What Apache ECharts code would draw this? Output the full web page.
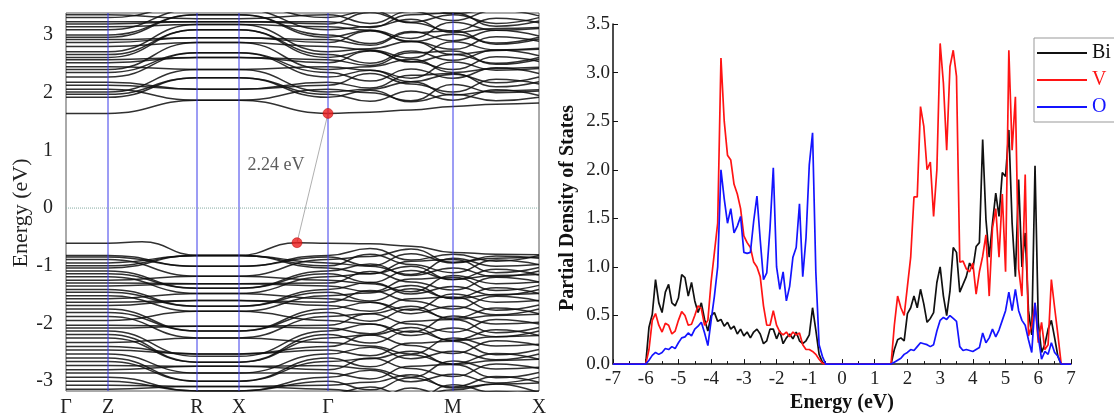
<!DOCTYPE html>
<html>
<head>
<meta charset="utf-8">
<script src="https://cdn.jsdelivr.net/npm/echarts@6/dist/echarts.min.js"></script>
<style>
  html, body { margin: 0; padding: 0; background: #ffffff; }
  #chart { width: 1114px; height: 418px; }
</style>
</head>
<body>
<div id="chart"></div>
<script>
// ---------- Band structure along Γ–Z–R–X–Γ–M–X ----------
const kLabels = ['Γ', 'Z', 'R', 'X', 'Γ', 'M', 'X'];
const kTicks = [0, 0.42, 1.31, 1.73, 2.62, 3.87, 4.73];
// sampling of every band: Γ, Z, R, X, Γ, Γ–M 1/3, Γ–M 2/3, M, M–X mid, X
const kPath = [0, 0.42, 1.31, 1.73, 2.62, 3.04, 3.45, 3.87, 4.30, 4.73];
const energyTicks = [-3, -2, -1, 0, 1, 2, 3];
const energyRange = [-3.17, 3.38];

// band edges (eV)
const bandGap = 2.24;
const vbmK = 2.31;
const vbmE = -0.60;
const cbmK = 2.62;
const cbmE = vbmE + bandGap;

// highest valence band, with its maxima inside Z–R and X–Γ
const topValenceK = [0, 0.42, 0.76, 1.31, 1.73, 2.31, 2.62, 3.04, 3.45, 3.87, 4.30, 4.73];
const topValenceE = [-0.61, -0.61, -0.585, -0.82, -0.82, -0.60, -0.61, -0.62, -0.66, -0.77, -0.80, -0.81];

// each row: [E(Γ)=E(Z), E(R)=E(X), Γ–M 1/3, Γ–M 2/3, M, M–X mid, X]
const valenceBands = [
  [-0.82, -1.01, -0.70, -0.90, -0.80, -0.92, -0.82],
  [-0.85, -1.01, -1.00, -0.79, -0.95, -0.83, -0.87],
  [-0.89, -1.18, -0.84, -0.71, -0.94, -0.87, -0.85],
  [-0.95, -0.82, -1.01, -1.15, -0.87, -1.01, -0.98],
  [-1.00, -0.82, -0.80, -0.98, -1.12, -0.90, -0.98],
  [-1.04, -0.82, -1.14, -0.92, -0.89, -1.12, -1.03],
  [-1.09, -1.39, -0.97, -1.17, -1.04, -1.19, -1.09],
  [-1.14, -1.39, -1.29, -1.08, -1.24, -1.06, -1.16],
  [-1.19, -1.48, -1.14, -1.01, -1.24, -1.17, -1.15],
  [-1.25, -1.18, -1.31, -1.45, -1.17, -1.31, -1.28],
  [-1.30, -1.31, -1.10, -1.28, -1.42, -1.20, -1.28],
  [-1.35, -1.31, -1.45, -1.23, -1.20, -1.43, -1.34],
  [-1.41, -1.70, -1.29, -1.49, -1.36, -1.51, -1.41],
  [-1.46, -1.70, -1.61, -1.40, -1.56, -1.38, -1.48],
  [-1.52, -1.79, -1.47, -1.34, -1.57, -1.50, -1.48],
  [-1.57, -1.48, -1.63, -1.77, -1.49, -1.63, -1.60],
  [-1.63, -1.60, -1.43, -1.61, -1.75, -1.53, -1.61],
  [-1.69, -1.60, -1.79, -1.57, -1.54, -1.77, -1.68],
  [-1.75, -2.13, -1.63, -1.83, -1.70, -1.85, -1.75],
  [-1.81, -2.13, -1.96, -1.75, -1.91, -1.73, -1.83],
  [-1.88, -2.25, -1.83, -1.70, -1.93, -1.86, -1.84],
  [-1.95, -1.79, -2.01, -2.15, -1.87, -2.01, -1.98],
  [-2.03, -2.05, -1.83, -2.01, -2.15, -1.93, -2.01],
  [-2.08, -2.05, -2.18, -1.96, -1.93, -2.16, -2.07],
  [-2.13, -2.57, -2.01, -2.21, -2.08, -2.23, -2.13],
  [-2.19, -2.67, -2.34, -2.13, -2.29, -2.11, -2.21],
  [-2.25, -2.67, -2.20, -2.07, -2.30, -2.23, -2.21],
  [-2.33, -2.25, -2.39, -2.53, -2.25, -2.39, -2.36],
  [-2.40, -2.53, -2.20, -2.38, -2.52, -2.30, -2.38],
  [-2.46, -2.53, -2.56, -2.34, -2.31, -2.54, -2.45],
  [-2.53, -2.86, -2.41, -2.61, -2.48, -2.63, -2.53],
  [-2.60, -3.00, -2.75, -2.54, -2.70, -2.52, -2.62],
  [-2.66, -3.00, -2.61, -2.48, -2.71, -2.64, -2.62],
  [-2.73, -2.74, -2.79, -2.93, -2.65, -2.79, -2.76],
  [-2.80, -2.74, -2.60, -2.78, -2.92, -2.70, -2.78],
  [-2.86, -2.86, -2.96, -2.74, -2.71, -2.94, -2.85],
  [-2.93, -3.17, -2.81, -3.01, -2.88, -3.03, -2.93],
  [-3.00, -3.17, -3.15, -2.94, -3.10, -2.92, -3.02],
  [-3.07, -3.09, -3.02, -2.89, -3.12, -3.05, -3.03],
  [-3.14, -3.09, -3.20, -3.34, -3.06, -3.20, -3.17],
  [-3.22, -3.25, -3.10, -3.28, -3.15, -3.05, -3.20],
  [-3.30, -3.28, -3.35, -3.12, -3.30, -3.18, -3.26]
];

const conductionBands = [
  [cbmE, 1.87, 1.66, 1.70, 1.76, 1.80, 1.82],
  [1.92, 2.26, 2.04, 1.84, 1.97, 1.86, 1.92],
  [1.97, 2.26, 1.85, 2.03, 1.87, 2.05, 1.95],
  [2.01, 2.40, 2.06, 2.19, 1.96, 2.03, 2.05],
  [2.06, 1.87, 2.00, 1.86, 2.14, 2.00, 2.03],
  [2.13, 2.06, 2.33, 2.15, 2.01, 2.23, 2.15],
  [2.18, 2.06, 2.08, 2.30, 2.33, 2.10, 2.19],
  [2.27, 2.69, 2.39, 2.19, 2.32, 2.17, 2.27],
  [2.35, 2.69, 2.20, 2.41, 2.25, 2.43, 2.33],
  [2.40, 2.87, 2.45, 2.58, 2.35, 2.42, 2.44],
  [2.45, 2.40, 2.39, 2.25, 2.53, 2.39, 2.42],
  [2.52, 2.61, 2.72, 2.54, 2.40, 2.62, 2.54],
  [2.57, 2.61, 2.47, 2.69, 2.72, 2.49, 2.58],
  [2.61, 3.09, 2.73, 2.53, 2.66, 2.51, 2.61],
  [2.66, 3.09, 2.51, 2.72, 2.56, 2.74, 2.64],
  [2.71, 3.18, 2.76, 2.89, 2.66, 2.73, 2.75],
  [2.80, 2.87, 2.74, 2.60, 2.88, 2.74, 2.77],
  [2.87, 2.95, 3.07, 2.89, 2.75, 2.97, 2.89],
  [2.92, 2.95, 2.82, 3.04, 3.07, 2.84, 2.93],
  [2.96, 3.35, 3.08, 2.88, 3.01, 2.86, 2.96],
  [3.00, 3.35, 2.85, 3.06, 2.90, 3.08, 2.98],
  [3.09, 3.45, 3.14, 3.27, 3.04, 3.11, 3.13],
  [3.14, 3.18, 3.08, 2.94, 3.22, 3.08, 3.11],
  [3.19, 3.23, 3.39, 3.21, 3.07, 3.29, 3.21],
  [3.23, 3.23, 3.13, 3.35, 3.38, 3.15, 3.24],
  [3.30, 3.52, 3.42, 3.22, 3.35, 3.20, 3.30],
  [3.35, 3.28, 3.20, 3.41, 3.25, 3.43, 3.33],
  [3.42, 3.55, 3.47, 3.60, 3.37, 3.44, 3.46]
];

// ---------- Partial density of states (0.1 eV sampling) ----------
const pdosStep = 0.1;
const valenceStart = -6.0;   // -6.0 … -0.5 eV
const conductionStart = 1.5; //  1.5 …  6.7 eV

const biValence = [
  0, 0.38, 0.51, 0.87, 0.63, 0.53, 0.74, 0.82, 0.63, 0.60,
  0.68, 0.92, 0.89, 0.70, 0.84, 0.65, 0.53, 0.63, 0.46, 0.34,
  0.50, 0.53, 0.44, 0.46, 0.39, 0.43, 0.36, 0.39, 0.31, 0.36,
  0.29, 0.33, 0.27, 0.33, 0.36, 0.31, 0.21, 0.24, 0.36, 0.36,
  0.26, 0.34, 0.21, 0.27, 0.31, 0.26, 0.33, 0.24, 0.21, 0.24,
  0.30, 0.58, 0.35, 0.10, 0.02, 0
];
const vValence = [
  0, 0.15, 0.45, 0.52, 0.40, 0.33, 0.42, 0.40, 0.31, 0.34,
  0.45, 0.54, 0.50, 0.40, 0.41, 0.50, 0.60, 0.57, 0.40, 0.45,
  0.85, 1.15, 1.45, 3.15, 2.50, 2.15, 2.10, 1.85, 1.75, 1.60,
  1.32, 1.25, 1.20, 1.05, 1.00, 0.90, 0.60, 0.40, 0.40, 0.55,
  0.40, 0.33, 0.30, 0.33, 0.28, 0.33, 0.30, 0.32, 0.20, 0.15,
  0.15, 0.13, 0.10, 0.05, 0.01, 0
];
const oValence = [
  0, 0.04, 0.09, 0.12, 0.10, 0.12, 0.16, 0.15, 0.18, 0.16,
  0.22, 0.27, 0.28, 0.32, 0.29, 0.36, 0.39, 0.43, 0.32, 0.19,
  0.45, 0.70, 1.00, 2.00, 1.70, 1.45, 1.60, 1.35, 1.42, 1.52,
  1.15, 1.14, 1.15, 1.47, 1.73, 1.28, 0.87, 0.94, 1.40, 2.02,
  1.00, 0.77, 0.95, 0.65, 0.80, 1.10, 1.20, 1.65, 0.90, 1.30,
  2.05, 2.38, 0.95, 0.20, 0.08, 0
];
const biConduction = [
  0, 0.15, 0.25, 0.27, 0.24, 0.52, 0.58, 0.70, 0.58, 0.77,
  0.62, 0.43, 0.47, 0.53, 0.84, 1.00, 0.70, 0.50, 0.75, 1.20,
  1.15, 0.74, 0.82, 0.90, 1.04, 0.98, 1.21, 1.25, 2.31, 1.49,
  1.10, 1.45, 1.76, 1.52, 1.97, 1.93, 2.41, 1.45, 0.90, 1.90,
  1.00, 1.35, 0.55, 0.30, 2.04, 0.43, 0.12, 0.20, 0.36, 0.45,
  0.27, 0.08, 0
];
const vConduction = [
  0, 0.40, 0.70, 0.58, 0.50, 0.80, 1.10, 1.72, 1.72, 2.65,
  2.45, 2.00, 2.08, 1.52, 2.00, 3.30, 2.89, 2.20, 3.06, 3.23,
  2.96, 1.05, 1.06, 0.98, 0.95, 1.04, 0.72, 0.95, 1.11, 1.33,
  0.70, 1.40, 1.60, 1.10, 1.75, 0.95, 3.23, 2.20, 2.75, 0.98,
  0.70, 1.95, 0.29, 0.40, 0.63, 0.22, 0.43, 0.15, 0.20, 0.87,
  0.58, 0.30, 0
];
const oConduction = [
  0, 0.02, 0.04, 0.06, 0.10, 0.12, 0.15, 0.14, 0.18, 0.22,
  0.21, 0.20, 0.18, 0.20, 0.34, 0.45, 0.48, 0.46, 0.50, 0.47,
  0.44, 0.18, 0.14, 0.15, 0.14, 0.13, 0.15, 0.17, 0.32, 0.22,
  0.27, 0.36, 0.28, 0.35, 0.45, 0.55, 0.74, 0.55, 0.77, 0.55,
  0.45, 0.40, 0.25, 0.12, 0.63, 0.28, 0.05, 0.13, 0.10, 0.22,
  0.12, 0.08, 0
];
const pdosNames = ['Bi', 'V', 'O'];
const pdosColors = ['#111111', '#ff1414', '#1414ff'];

// ---------- build series ----------
const serif = 'Liberation Serif';

function bandPoints(row) {
  const [eG, eR, g1, g2, eM, mx, eX] = row;
  const e = [eG, eG, eR, eR, eG, g1, g2, eM, mx, eX];
  return kPath.map((k, i) => [k, e[i]]);
}

function pdosPoints(valence, conduction) {
  const pts = [[-7, 0]];
  valence.forEach((v, i) => pts.push([+(valenceStart + i * pdosStep).toFixed(2), v]));
  conduction.forEach((v, i) => pts.push([+(conductionStart + i * pdosStep).toFixed(2), v]));
  pts.push([7, 0]);
  return pts;
}

const bandLine = { color: '#0d0d0d', width: 1.5, opacity: 0.85 };
function bandSeries(data) {
  return {
    type: 'line', xAxisIndex: 0, yAxisIndex: 0, data: data,
    smooth: 0.5, smoothMonotone: 'x', symbol: 'none', silent: true,
    lineStyle: bandLine, z: 2
  };
}

const series = [];
series.push(bandSeries(topValenceK.map((k, i) => [k, topValenceE[i]])));
valenceBands.concat(conductionBands).forEach(row => series.push(bandSeries(bandPoints(row))));

// high-symmetry lines
kTicks.slice(1, -1).forEach(k => {
  series.push({
    type: 'line', xAxisIndex: 0, yAxisIndex: 0, symbol: 'none', silent: true, z: 5,
    data: [[k, energyRange[0]], [k, energyRange[1]]],
    lineStyle: { color: '#3b3bea', width: 1 }
  });
});

// Fermi level
series.push({
  type: 'line', xAxisIndex: 0, yAxisIndex: 0, symbol: 'none', silent: true, z: 5,
  data: [[kTicks[0], 0], [kTicks[kTicks.length - 1], 0]],
  lineStyle: { color: '#86aca2', width: 1, type: 'dotted' }
});

// band gap marker
series.push({
  type: 'line', xAxisIndex: 0, yAxisIndex: 0, symbol: 'none', silent: true, z: 6,
  data: [[vbmK, vbmE], [cbmK, cbmE]],
  lineStyle: { color: '#9a9a9a', width: 0.8 }
});
series.push({
  type: 'scatter', xAxisIndex: 0, yAxisIndex: 0, silent: true, z: 7,
  data: [[vbmK, vbmE], [cbmK, cbmE]], symbolSize: 10,
  itemStyle: { color: '#ec1c1c', borderColor: '#b80000', borderWidth: 0.6 }
});
series.push({
  type: 'scatter', xAxisIndex: 0, yAxisIndex: 0, silent: true, z: 7,
  data: [[2.10, 0.75]], symbolSize: 0,
  label: {
    show: true, position: 'inside', formatter: bandGap.toFixed(2) + ' eV',
    fontFamily: serif, fontSize: 18, color: '#333'
  }
});

// PDOS curves
[[biValence, biConduction], [vValence, vConduction], [oValence, oConduction]].forEach((pair, i) => {
  series.push({
    name: pdosNames[i], type: 'line', xAxisIndex: 1, yAxisIndex: 1,
    data: pdosPoints(pair[0], pair[1]), symbol: 'none', silent: true, z: 3 + i,
    lineStyle: { color: pdosColors[i], width: 1.7 }, itemStyle: { color: pdosColors[i] }
  });
});

const chart = echarts.init(document.getElementById('chart'));
chart.setOption({
  animation: false,
  backgroundColor: '#ffffff',
  textStyle: { fontFamily: serif },
  grid: [
    { left: 66, top: 13, width: 473, height: 380, show: true, borderColor: '#555', borderWidth: 1 },
    { left: 613, top: 24, width: 458, height: 341 }
  ],
  legend: {
    data: pdosNames.map((n, i) => ({ name: n, icon: 'rect', textStyle: { color: pdosColors[i] } })),
    orient: 'vertical', left: 1034, top: 38,
    padding: [5, 30, 5, 3], itemWidth: 50, itemHeight: 2, itemGap: 7,
    borderColor: '#999', borderWidth: 1, backgroundColor: '#fff',
    textStyle: { fontFamily: serif, fontSize: 20 }, selectedMode: false
  },
  xAxis: [
    {
      type: 'value', gridIndex: 0, min: 0, max: kTicks[kTicks.length - 1],
      axisLine: { show: false }, axisTick: { show: false }, splitLine: { show: false },
      axisLabel: {
        customValues: kTicks, formatter: v => kLabels[kTicks.indexOf(v)],
        fontFamily: serif, fontSize: 20, color: '#222', margin: 7
      }
    },
    {
      type: 'value', gridIndex: 1, min: -7, max: 7, interval: 1,
      axisLine: { onZero: false, lineStyle: { color: '#111', width: 1.5 } },
      axisTick: { inside: true, length: 5, lineStyle: { color: '#111' } },
      minorTick: { show: true, splitNumber: 2, length: 3, lineStyle: { color: '#111' } },
      splitLine: { show: false },
      axisLabel: { fontFamily: serif, fontSize: 19, color: '#222', margin: 5 },
      name: 'Energy (eV)', nameLocation: 'middle', nameGap: 28,
      nameTextStyle: { fontFamily: serif, fontSize: 20, fontWeight: 'bold', color: '#111' }
    }
  ],
  yAxis: [
    {
      type: 'value', gridIndex: 0, min: energyRange[0], max: energyRange[1],
      axisLine: { show: false }, axisTick: { show: false }, splitLine: { show: false },
      axisLabel: { customValues: energyTicks, fontFamily: serif, fontSize: 20, color: '#222', margin: 13 },
      name: 'Energy (eV)', nameLocation: 'middle', nameGap: 27,
      nameTextStyle: { fontFamily: serif, fontSize: 22, color: '#222', padding: [0, 22, 0, 0] }
    },
    {
      type: 'value', gridIndex: 1, min: 0, max: 3.5, interval: 0.5,
      axisLine: { show: true, onZero: false, lineStyle: { color: '#111', width: 1.5 } },
      axisTick: { show: true, inside: true, length: 5, lineStyle: { color: '#111' } },
      splitLine: { show: false },
      axisLabel: { formatter: v => v.toFixed(1), fontFamily: serif, fontSize: 19, color: '#222', margin: 3 },
      name: 'Partial Density of States', nameLocation: 'middle', nameGap: 35,
      nameTextStyle: { fontFamily: serif, fontSize: 20, fontWeight: 'bold', color: '#111', padding: [0, 28, 0, 0] }
    }
  ],
  series: series
});
</script>
</body>
</html>
